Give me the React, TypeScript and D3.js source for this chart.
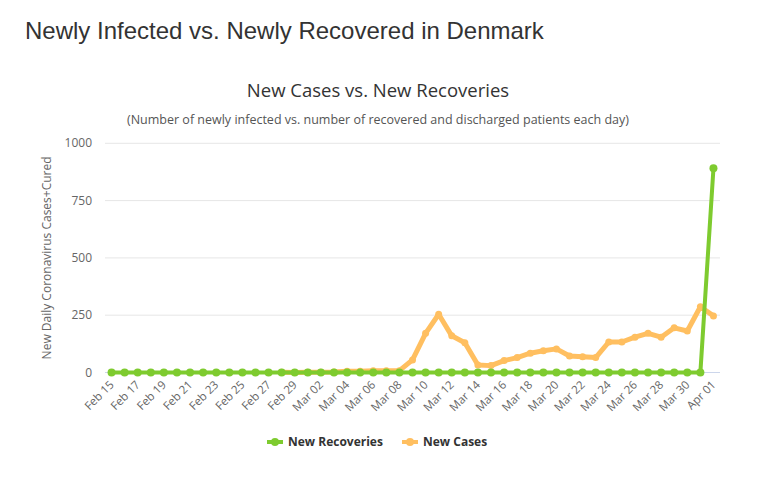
import React from "react";
import * as d3 from "d3";

const dates = [
  "Feb 15", "Feb 16", "Feb 17", "Feb 18", "Feb 19", "Feb 20", "Feb 21", "Feb 22",
  "Feb 23", "Feb 24", "Feb 25", "Feb 26", "Feb 27", "Feb 28", "Feb 29",
  "Mar 01", "Mar 02", "Mar 03", "Mar 04", "Mar 05", "Mar 06", "Mar 07", "Mar 08",
  "Mar 09", "Mar 10", "Mar 11", "Mar 12", "Mar 13", "Mar 14", "Mar 15", "Mar 16",
  "Mar 17", "Mar 18", "Mar 19", "Mar 20", "Mar 21", "Mar 22", "Mar 23", "Mar 24",
  "Mar 25", "Mar 26", "Mar 27", "Mar 28", "Mar 29", "Mar 30", "Mar 31", "Apr 01",
];

const newRecoveries = [
  0, 0, 0, 0, 0, 0, 0, 0, 0, 0, 0, 0, 0, 0, 0,
  0, 0, 0, 0, 0, 0, 0, 0, 0, 0, 0, 0, 0, 0, 0, 0,
  0, 0, 0, 0, 0, 0, 0, 0, 0, 0, 0, 0, 0, 0, 0, 891,
];

const newCases: (number | null)[] = [
  null, null, null, null, null, null, null, null, null, null, null, null, null, 1, 0,
  1, 1, 2, 5, 5, 8, 8, 8, 55, 171, 254, 160, 130, 33, 30, 52,
  65, 84, 95, 103, 72, 69, 65, 133, 133, 154, 171, 154, 195, 181, 287, 247,
];

const yTicks = [0, 250, 500, 750, 1000];

const GREEN = "#7ecb2f";
const ORANGE = "#ffbf60";
const FONT = "'Open Sans', 'DejaVu Sans', sans-serif";

export default function App() {
  const width = 766;
  const height = 502;
  const left = 105;
  const right = 720;
  const top = 143.3;
  const bottom = 372.5;

  const x = d3.scalePoint<string>().domain(dates).range([left, right]).padding(0.5);
  const y = d3.scaleLinear().domain([0, 1000]).range([bottom, top]);

  const line = d3
    .line<number | null>()
    .defined((d) => d !== null)
    .x((_, i) => x(dates[i]) as number)
    .y((d) => y(d as number));

  const series = [
    { name: "New Cases", values: newCases, color: ORANGE, width: 5, r: 3.5 },
    { name: "New Recoveries", values: newRecoveries, color: GREEN, width: 4, r: 4 },
  ];

  const legend = [
    { name: "New Recoveries", color: GREEN, x: 267 },
    { name: "New Cases", color: ORANGE, x: 402 },
  ];

  return (
    <svg width={width} height={height} style={{ position: "absolute", left: 0, top: 0, background: "#fff" }}>
      <text x={25} y={39} fontFamily="'Liberation Sans', Arial, sans-serif" fontSize={24} fill="#333">
        Newly Infected vs. Newly Recovered in Denmark
      </text>
      <text x={378} y={97} textAnchor="middle" fontFamily={FONT} fontSize={18.5} fill="#333">
        New Cases vs. New Recoveries
      </text>
      <text x={378} y={124} textAnchor="middle" fontFamily={FONT} fontSize={12.5} fill="#555">
        (Number of newly infected vs. number of recovered and discharged patients each day)
      </text>

      {yTicks.map((t) => (
        <g key={t}>
          {t > 0 && <line x1={left} x2={right} y1={y(t)} y2={y(t)} stroke="#e6e6e6" />}
          <text x={92} y={y(t) + 4} textAnchor="end" fontFamily={FONT} fontSize={12} fill="#666">
            {t}
          </text>
        </g>
      ))}
      <line x1={left} x2={right} y1={bottom} y2={bottom} stroke="#ccd6eb" />

      <text
        transform={`translate(51, ${(top + bottom) / 2}) rotate(-90)`}
        textAnchor="middle"
        fontFamily={FONT}
        fontSize={12}
        fill="#666"
      >
        New Daily Coronavirus Cases+Cured
      </text>

      {dates.map((d, i) =>
        i % 2 === 0 ? (
          <text
            key={d}
            transform={`translate(${(x(d) as number) + 3}, ${bottom + 13}) rotate(-45)`}
            textAnchor="end"
            fontFamily={FONT}
            fontSize={11.5}
            fill="#666"
          >
            {d}
          </text>
        ) : null
      )}

      {series.map((s) => (
        <g key={s.name}>
          <path d={line(s.values) ?? ""} fill="none" stroke={s.color} strokeWidth={s.width} strokeLinejoin="round" strokeLinecap="round" />
          {s.values.map((v, i) =>
            v === null ? null : <circle key={i} cx={x(dates[i])} cy={y(v)} r={s.r} fill={s.color} />
          )}
        </g>
      ))}

      {legend.map((l) => (
        <g key={l.name}>
          <line x1={l.x} x2={l.x + 16} y1={442} y2={442} stroke={l.color} strokeWidth={4} />
          <circle cx={l.x + 8} cy={442} r={4} fill={l.color} />
          <text x={l.x + 21} y={446} fontFamily={FONT} fontSize={12} fontWeight="bold" fill="#333">
            {l.name}
          </text>
        </g>
      ))}
    </svg>
  );
}
